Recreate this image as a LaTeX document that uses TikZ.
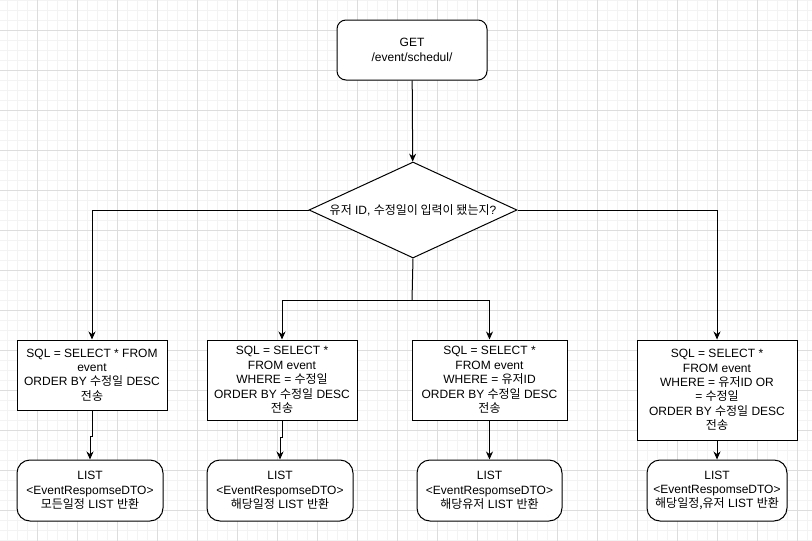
\documentclass[tikz,border=0pt]{standalone}
\usepackage{fontspec}
\setmainfont{Liberation Sans}
\newfontfamily\kr{Noto Sans CJK KR}[Scale=1.0]
\usetikzlibrary{shapes.geometric,arrows.meta}
\definecolor{gridminor}{HTML}{F3F3F3}
\definecolor{gridmajor}{HTML}{DDDDDD}

\begin{document}
\begin{tikzpicture}[x=1pt, y=-1pt,
  every node/.style={font=\fontsize{12}{14.4}\selectfont, align=center, inner sep=0pt},
  sqlbox/.style={draw, fill=white, line width=1pt},
  listbox/.style={draw, fill=white, line width=1pt, rounded corners=13pt, minimum height=61},
  flow/.style={line width=1pt, -{Stealth[length=8pt,width=7pt]}}]
\useasboundingbox (0,0) rectangle (812,541);
% grid
\foreach \x in {7,17,...,807}
{
	\draw[gridminor] (\x,0) -- (\x,541);
}
\foreach \y in {0,10,...,540}
{
	\draw[gridminor] (0,\y) -- (812,\y);
}
\foreach \x in {37,77,...,797}
{
	\draw[gridmajor] (\x,0) -- (\x,541);
}
\foreach \y in {30,70,...,510}
{
	\draw[gridmajor] (0,\y) -- (812,\y);
}
% request and check
\node[draw, fill=white, line width=1pt, rounded corners=9pt, minimum width=150, minimum height=60] (get) at (412,50) {GET\\/event/schedul/};
\node[draw, fill=white, line width=1pt, diamond, aspect=2.17, minimum width=208, minimum height=96] (check) at (413,210) {{\kr 유저} ID, {\kr 수정일이 입력이 됐는지}?};
% queries
\node[sqlbox, minimum width=150, minimum height=70] (sqlall) at (92,375) {SQL = SELECT * FROM\\event\\ORDER BY {\kr 수정일} DESC\\{\kr 전송}};
\node[sqlbox, minimum width=150, minimum height=80] (sqldate) at (282,380) {SQL = SELECT *\\FROM event\\WHERE = {\kr 수정일}\\ORDER BY {\kr 수정일} DESC\\{\kr 전송}};
\node[sqlbox, minimum width=155, minimum height=80] (sqluser) at (489.5,380) {SQL = SELECT *\\FROM event\\WHERE = {\kr 유저}ID\\ORDER BY {\kr 수정일} DESC\\{\kr 전송}};
\node[sqlbox, minimum width=160, minimum height=100] (sqlboth) at (717,390) {SQL = SELECT *\\FROM event\\WHERE = {\kr 유저}ID OR\\= {\kr 수정일}\\ORDER BY {\kr 수정일} DESC\\{\kr 전송}};
% results
\node[listbox, minimum width=146] (listall) at (90,490.5) {LIST\\<EventRespomseDTO>\\{\kr 모든일정} LIST {\kr 반환}};
\node[listbox, minimum width=146] (listdate) at (280,490.5) {LIST\\<EventRespomseDTO>\\{\kr 해당일정} LIST {\kr 반환}};
\node[listbox, minimum width=145] (listuser) at (489.5,490.5) {LIST\\<EventRespomseDTO>\\{\kr 해당유저} LIST {\kr 반환}};
\node[listbox, minimum width=140] (listboth) at (717,490.5) {LIST\\<EventRespomseDTO>\\{\kr 해당일정,유저} LIST {\kr 반환}};
% connectors
\coordinate (split) at (412,300);
\draw[flow] (get) -- (check);
\draw[flow] (check.west) -| (sqlall.north);
\draw[flow] (check.east) -| (sqlboth.north);
\draw[line width=1pt] (check.south) -- (split);
\draw[flow] (split) -| (sqldate.north);
\draw[flow] (split) -| (sqluser.north);
\draw[flow] (sqlall.south) -- ++(0,26) -| (listall.north);
\draw[flow] (sqldate.south) -- ++(0,17) -| (listdate.north);
\draw[flow] (sqluser) -- (listuser);
\draw[flow] (sqlboth) -- (listboth);
\end{tikzpicture}
\end{document}
